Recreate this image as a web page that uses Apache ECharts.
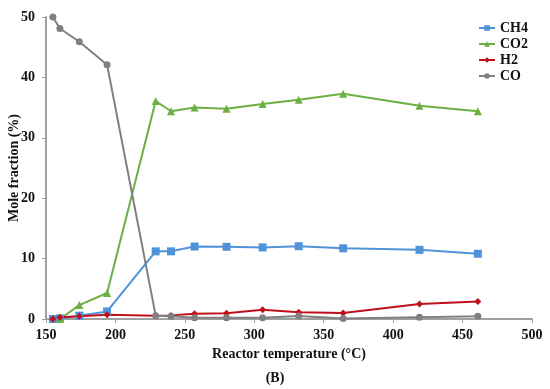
<!DOCTYPE html>
<html><head><meta charset="utf-8">
<script src="https://cdn.jsdelivr.net/npm/echarts@6/dist/echarts.min.js"></script>
<style>html,body{margin:0;padding:0;background:#fff}#c{width:550px;height:389px}</style>
</head><body><div id="c"></div>
<script>
const temps = [155, 160, 174, 194, 229, 240, 257, 280, 306, 332, 364, 419, 461];
const ch4 = [0, 0.1, 0.55, 1.25, 11.2, 11.2, 12.0, 11.95, 11.85, 12.05, 11.7, 11.45, 10.8];
const co2 = [null, 0, 2.3, 4.3, 36.1, 34.4, 35.0, 34.8, 35.6, 36.3, 37.3, 35.3, 34.4];
const h2 = [0, 0.3, 0.45, 0.7, 0.55, 0.6, 0.85, 0.95, 1.55, 1.1, 1.0, 2.5, 2.9];
const co = [50, 48.1, 45.9, 42.1, 0.55, 0.45, 0.2, 0.2, 0.2, 0.5, 0.1, 0.3, 0.45];
const xTicks = [150, 200, 250, 300, 350, 400, 450, 500];
const yTicks = [0, 10, 20, 30, 40, 50];

const font = 'Liberation Serif';
function pairs(vals){ return temps.map((t,i)=>[t, vals[i]]).filter(p=>p[1]!==null); }
function mk(name, vals, color, symbol, size){
  return {name, type:'line', data:pairs(vals), symbol, symbolSize:size,
    lineStyle:{color, width:2}, itemStyle:{color}, showSymbol:true};
}
const chart = echarts.init(document.getElementById('c'), null, {renderer:'canvas'});
chart.setOption({
  animation:false,
  backgroundColor:'#fff',
  grid:{left:46, right:18, top:17, bottom:70, containLabel:false, outerBoundsMode:'none'},
  legend:{orient:'vertical', left:473, top:16, itemGap:2, itemWidth:16, itemHeight:7,
    textStyle:{fontFamily:font, fontWeight:'bold', fontSize:14, color:'#111'},
    data:['CH4','CO2','H2','CO']},
  xAxis:{type:'value', min:xTicks[0], max:xTicks[xTicks.length-1], interval:50,
    name:'Reactor temperature (°C)', nameLocation:'middle', nameGap:22,
    nameTextStyle:{fontFamily:font, fontWeight:'bold', fontSize:14, color:'#111'},
    axisLine:{show:true, lineStyle:{color:'#a0a0a0', width:2}},
    axisTick:{show:true, length:4, lineStyle:{color:'#a0a0a0'}},
    splitLine:{show:false},
    axisLabel:{fontFamily:font, fontWeight:'bold', fontSize:14, color:'#111', margin:9}},
  yAxis:{type:'value', min:yTicks[0], max:yTicks[yTicks.length-1], interval:10,
    axisLine:{show:true, lineStyle:{color:'#a0a0a0', width:2}},
    axisTick:{show:true, length:4, lineStyle:{color:'#a0a0a0'}},
    splitLine:{show:false},
    axisLabel:{fontFamily:font, fontWeight:'bold', fontSize:14, color:'#111', margin:11}},
  graphic:[
    {type:'text', left:'center', top:371, style:{text:'(B)', font:'bold 14px "Liberation Serif"', fill:'#111'}},
    {type:'text', x:14, y:168, rotation:Math.PI/2,
      style:{text:'Mole fraction (%)', font:'bold 14px "Liberation Serif"', fill:'#111', align:'center', verticalAlign:'middle'}}
  ],
  series:[
    mk('CH4', ch4, '#4f93d8', 'rect', 8),
    mk('CO2', co2, '#6cb043', 'triangle', 8),
    mk('H2', h2, '#c0101a', 'diamond', 7),
    mk('CO', co, '#808080', 'circle', 7)
  ]
});
</script></body></html>
